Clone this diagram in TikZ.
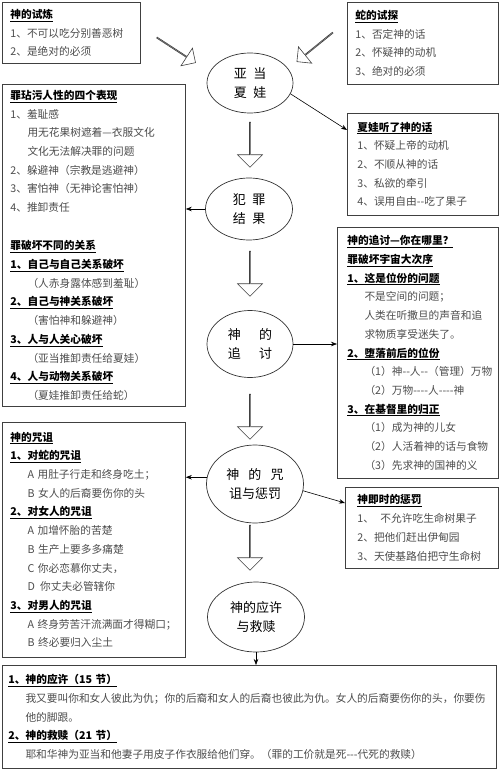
\documentclass[tikz,border=0pt]{standalone}
\usepackage{fontspec}
\setmainfont{Noto Sans CJK SC}
\usetikzlibrary{shapes.geometric,shapes.arrows,arrows.meta}
\newcommand{\hd}[1]{{\color{black}\bfseries\underline{#1}}}
\newcommand{\ind}{\hspace*{1.6em}}
\newcommand{\hy}{-\kern0pt}

\begin{document}
\begin{tikzpicture}[x=1pt,y=-1pt,
    box/.style={draw=black!75, line width=0.8pt, anchor=north west, align=left,
      inner xsep=8pt, inner ysep=0pt, text=black!70, font=\fontsize{10.7}{18.7}\selectfont},
    oval/.style={ellipse, draw=black!80, line width=0.7pt, align=center,
      inner sep=0pt, font=\fontsize{13}{18.5}\selectfont},
    hollow/.style={single arrow, draw=black!75, fill=white, line width=0.6pt, inner sep=0pt,
      minimum width=25pt, minimum height=45pt, single arrow head extend=6.5pt},
    link/.style={-{Stealth[length=6pt,width=4.5pt]}, line width=0.6pt}]
  \useasboundingbox (0,0) rectangle (500,770);

  % boxes
  \node[box, text width=122pt, minimum height=61pt] (trial) at (2,2)
    {\hd{神的试炼}\\1、不可以吃分别善恶树\\2、是绝对的必须};
  \node[box, text width=135pt, minimum height=82pt] (tempt) at (347,2)
    {\hd{蛇的试探}\\1、否定神的话\\2、怀疑神的动机\\3、绝对的必须};
  \node[box, text width=167pt, minimum height=322pt] (stain) at (2,84)
    {\hd{罪玷污人性的四个表现}\\1、羞耻感\\\ind 用无花果树遮着—衣服文化\\\ind 文化无法解决罪的问题\\
     2、躲避神（宗教是逃避神）\\3、害怕神（无神论害怕神）\\4、推卸责任\\[19.5pt]
     \hd{罪破坏不同的关系}\\\hd{1、自己与自己关系破坏}\\\ind（人赤身露体感到羞耻）\\
     \hd{2、自己与神关系破坏}\\\ind（害怕神和躲避神）\\\hd{3、人与人关心破坏}\\
     \ind（亚当推卸责任给夏娃）\\\hd{4、人与动物关系破坏}\\\ind（夏娃推卸责任给蛇）};
  \node[box, inner xsep=10pt, text width=131pt, minimum height=102pt] (obey) at (347,113)
    {\hd{夏娃听了神的话}\\1、怀疑上帝的动机\\2、不顺从神的话\\3、私欲的牵引\\
     \mbox{4、误用自由\hy\hy 吃了果子}};
  \node[box, inner xsep=10pt, text width=141pt, minimum height=251pt] (order) at (337,227)
    {\hd{神的追讨—你在哪里？}\\\hd{罪破坏宇宙大次序}\\\hd{1、这是位份的问题}\\
     \ind 不是空间的问题；\\\ind 人类在听撒旦的声音和追\\\ind 求物质享受迷失了。\\
     \hd{2、堕落前后的位份}\\\ind\mbox{（1）神\hy\hy 人\hy\hy（管理）万物}\\
     \ind\mbox{（2）万物\hy\hy\hy\hy 人\hy\hy\hy\hy 神}\\
     \hd{3、在基督里的归正}\\\ind（1）成为神的儿女\\\ind（2）人活着神的话与食物\\
     \ind（3）先求神的国神的义};
  \node[box, text width=167pt, minimum height=235pt] (curse) at (2,422)
    {\hd{神的咒诅}\\\hd{1、对蛇的咒诅}\\\ind A 用肚子行走和终身吃土；\\\ind B 女人的后裔要伤你的头\\
     \hd{2、对女人的咒诅}\\\ind A 加增怀胎的苦楚\\\ind B 生产上要多多痛楚\\
     \ind C 你必恋慕你丈夫，\\\ind D\hspace{0.5em}你丈夫必管辖你\\
     \hd{3、对男人的咒诅}\\\ind A 终身劳苦汗流满面才得糊口；\\\ind B 终必要归入尘土};
  \node[box, inner xsep=12pt, text width=129pt, minimum height=81pt] (punish) at (345,487)
    {\hd{神即时的惩罚}\\1、\hspace{0.6em}不允许吃生命树果子\\2、把他们赶出伊甸园\\3、天使基路伯把守生命树};
  \node[box, inner xsep=6pt, text width=482pt, minimum height=103pt] (promise) at (2,665)
    {\hd{1、神的应许（15 节）}\\
     \ind 我又要叫你和女人彼此为仇；你的后裔和女人的后裔也彼此为仇。女人的后裔要伤你的头，你要伤\\
     \ind 他的脚跟。\\\hd{2、神的救赎（21 节）}\\
     \ind\mbox{耶和华神为亚当和他妻子用皮子作衣服给他们穿。（罪的工价就是死\hy\hy\hy 代死的救赎）}};

  % main chain
  \node[oval, minimum width=86pt, minimum height=60pt] (adam) at (250,83) {亚\hspace{0.5em}当\\夏\hspace{0.5em}娃};
  \node[oval, minimum width=87pt, minimum height=62pt] (fall) at (249,209) {犯\hspace{0.5em}罪\\结\hspace{0.5em}果};
  \node[oval, minimum width=86pt, minimum height=67pt] (search) at (250,344) {神\hspace{1.4em}的\\追\hspace{1.4em}讨};
  \node[oval, minimum width=97pt, minimum height=78pt] (judge) at (255,484) {神\hspace{0.7em}的\hspace{0.7em}咒\\诅与惩罚};
  \node[oval, minimum width=97pt, minimum height=70pt] (grace) at (256,617) {神的应许\\与救赎};

  \node[hollow, rotate=-90] (d1) at (250,144.5) {};
  \node[hollow, rotate=-90] (d2) at (250,273.5) {};
  \node[hollow, rotate=-90] (d3) at (250,416.5) {};
  \node[hollow, rotate=-90] (d4) at (250,547.5) {};
  \node[hollow, rotate=-33, minimum width=21pt, minimum height=46pt, single arrow head extend=5.5pt] (dl) at (176,50) {};
  \node[hollow, rotate=-141, minimum width=21pt, minimum height=46pt, single arrow head extend=5.5pt] (dr) at (315,47) {};

  \draw[link] (adam.-15) -- ([yshift=-17pt]obey.north west);
  \draw[link] (fall.west) -- (fall.west -| stain.east);
  \draw[link] (search.east) -- (search.east -| order.west);
  \draw[link] (judge.172) -- (judge.172 -| curse.east);
  \draw[link] (judge.-8) -- ([yshift=-16pt]punish.north west);
  \draw[link] (grace.south) -- (grace.south |- promise.north);
\end{tikzpicture}
\end{document}
